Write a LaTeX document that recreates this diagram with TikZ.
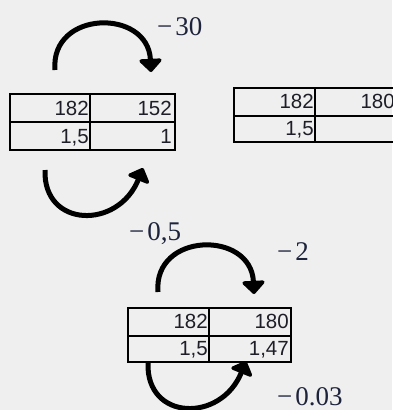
\documentclass[tikz,border=0pt]{standalone}
\usepackage{fontspec}
\setmainfont{Liberation Serif}
\newfontfamily\tabfont{Liberation Sans}
\usetikzlibrary{arrows.meta}
\definecolor{bg}{RGB}{239,239,239}
\definecolor{labc}{RGB}{30,35,60}
\definecolor{numc}{RGB}{30,30,40}
\begin{document}
\begin{tikzpicture}[x=1pt,y=-1pt,
  cell/.style={draw=black,line width=1.3pt},
  num/.style={inner sep=0pt,anchor=base east,font=\tabfont\fontsize{20.5}{20.5}\selectfont,text=numc},
  lbl/.style={inner sep=0pt,anchor=base west,font=\fontsize{27}{27}\selectfont,text=labc},
  bendarrow/.style={line width=5pt,-{Triangle[width=26pt,length=14pt,round]}}]
\fill[bg] (0,0) rectangle (392,410);
\useasboundingbox (0,0) rectangle (392,410);
% table 1
\draw[cell] (10,94) rectangle (175,150);
\draw[cell] (10,122) -- (175,122);
\draw[cell] (90,94) -- (90,150);
\node[num] (t1a) at (89,115) {182};
\node[num] (t1b) at (172,115) {152};
\node[num] (t1c) at (89,143) {1,5};
\node[num] (t1d) at (172,143) {1};
% table 2
\draw[cell] (234,88) rectangle (400,142);
\draw[cell] (234,116) -- (400,116);
\draw[cell] (315,88) -- (315,142);
\node[num] (t2a) at (314,108) {182};
\node[num] (t2b) at (395,108) {180};
\node[num] (t2c) at (314,135) {1,5};
% table 3
\draw[cell] (128,308) rectangle (291,362);
\draw[cell] (128,336) -- (291,336);
\draw[cell] (209,308) -- (209,362);
\node[num] (t3a) at (208,328) {182};
\node[num] (t3b) at (289,328) {180};
\node[num] (t3c) at (208,355) {1,5};
\node[num] (t3d) at (289,355) {1,47};
% arrows
\draw[bendarrow] (55,70) .. controls (50,10) and (148,8) .. (151,72);
\draw[bendarrow] (45,170) .. controls (43,228) and (118,230) .. (143,168);
\draw[bendarrow] (158,292) .. controls (153,232) and (251,230) .. (254,294);
\draw[bendarrow] (148,363) .. controls (146,421) and (221,423) .. (246,361);
% labels
\node[lbl] (l1) at (157,35) {−\hspace{3pt}30};
\node[lbl] (l2) at (129,240) {−\hspace{3pt}0,5};
\node[lbl] (l3) at (277,260) {−\hspace{3pt}2};
\node[lbl] (l4) at (277,405) {−\hspace{3pt}0.03};
\end{tikzpicture}
\end{document}
